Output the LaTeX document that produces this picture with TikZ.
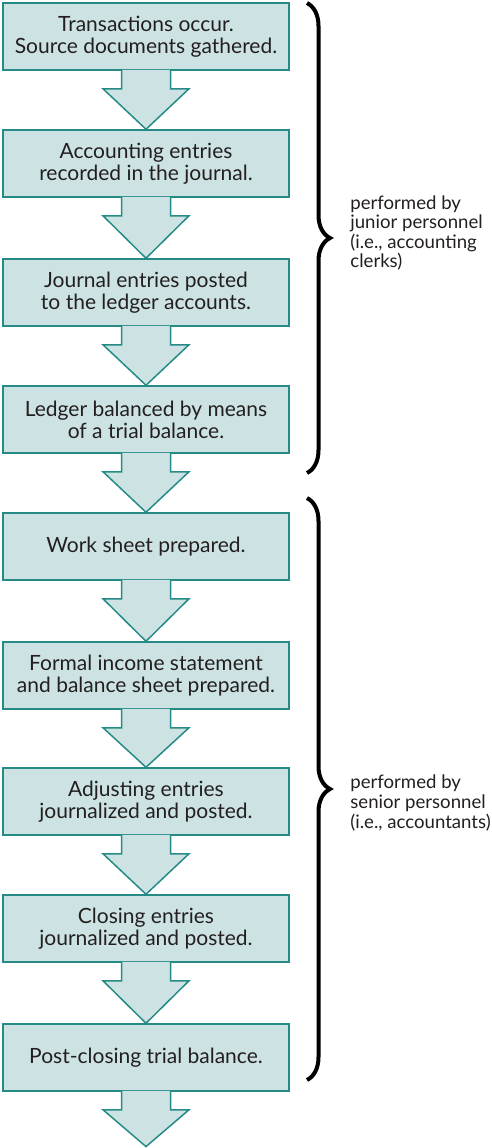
\documentclass[tikz,border=0pt]{standalone}
\usepackage{fontspec}
\setmainfont{Lato}
\usetikzlibrary{calc,decorations.pathreplacing}

\begin{document}
\begin{tikzpicture}[x=0.5pt,y=-0.5pt,
  cyclebox/.style={draw=cy_line, fill=cy_fill, line width=0.75pt, minimum width=143pt,
    minimum height=33.5pt, inner sep=0pt, align=center, text=cy_text,
    font=\fontsize{10.5}{11}\selectfont},
  cyclearrow/.style={draw=cy_line, fill=cy_fill, line width=0.75pt},
  sidebrace/.style={decorate, decoration={brace, amplitude=11.5pt}, line width=2pt, draw=black},
  sidenote/.style={anchor=west, align=left, inner sep=0pt, text=cy_text,
    font=\fontsize{9.3}{9.8}\selectfont}]

% ------------------------------------------------ cycle colors
\definecolor{cy_fill}{RGB}{205,227,227} %#CDE3E3
\definecolor{cy_line}{RGB}{38,138,134}  %#268A86
\definecolor{cy_text}{RGB}{35,31,32}    %#231F20

\useasboundingbox (0,0) rectangle (492,1148);

% steps of the cycle
\node[cyclebox] (trans)   at (146,36.5)   {Transactions occur.\\Source documents gathered.};
\node[cyclebox] (journal) at (146,163.5)  {Accounting entries\\recorded in the journal.};
\node[cyclebox] (ledger)  at (146,292.5)  {Journal entries posted\\to the ledger accounts.};
\node[cyclebox] (trial)   at (146,419.5)  {Ledger balanced by means\\of a trial balance.};
\node[cyclebox] (wsheet)  at (146,546.5)  {Work sheet prepared.};
\node[cyclebox] (stmts)   at (146,675.5)  {Formal income statement\\and balance sheet prepared.};
\node[cyclebox] (adjust)  at (146,801.5)  {Adjusting entries\\journalized and posted.};
\node[cyclebox] (closing) at (146,928.5)  {Closing entries\\journalized and posted.};
\node[cyclebox] (postcl)  at (146,1057.5) {Post-closing trial balance.};
\node[inner sep=0pt, minimum size=0pt] (restart) at (146,1147) {};

% block arrows (open path: fill covers the box edge, stroke leaves it out)
\foreach \a/\b in {trans/journal, journal/ledger, ledger/trial, trial/wsheet,
                   wsheet/stmts, stmts/adjust, adjust/closing, closing/postcl, postcl/restart}
  \draw[cyclearrow] ($(\a.south)+(-24.5,-1)$) -- ++(0,19) -- ++(-18.5,0) -- (\b.north)
    -- ($(\a.south)+(43,18)$) -- ++(-18.5,0) -- ++(0,-19);

% who does what
\draw[sidebrace] (307,3) -- (307,473);
\draw[sidebrace] (307,498) -- (307,1080);

\node[sidenote] (junior) at (350,233) {performed by\\junior personnel\\(i.e., accounting\\clerks)};
\node[sidenote] (senior) at (350,803) {performed by\\senior personnel\\(i.e., accountants)};

\end{tikzpicture}
\end{document}
